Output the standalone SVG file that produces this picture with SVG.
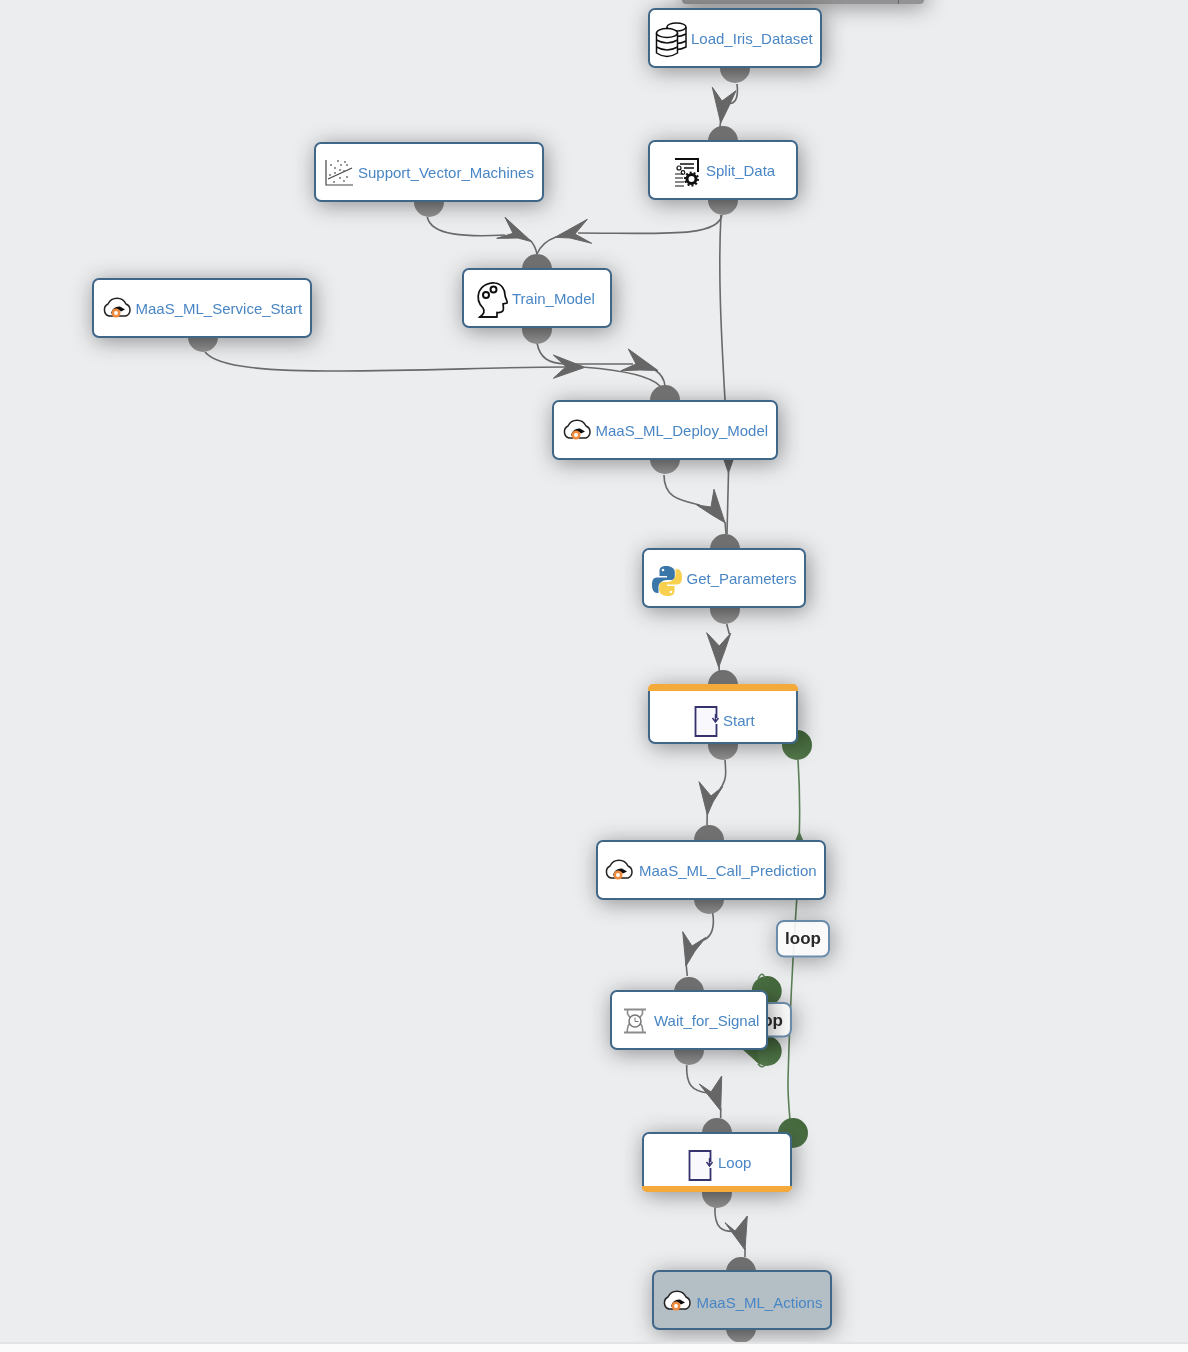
<svg xmlns="http://www.w3.org/2000/svg" xmlns:xlink="http://www.w3.org/1999/xlink" width="1188" height="1352" viewBox="0 0 1188 1352">
<style>
.box{fill:#fff;stroke:#3f6688;stroke-width:2}
.lab{font-family:"Liberation Sans",Arial,sans-serif;font-size:15px;fill:#4a86c4}
.lp{font-family:"Liberation Sans",Arial,sans-serif;font-size:17px;font-weight:bold;fill:#2a2a2a}
.lpb{fill:#fff;fill-opacity:.87;stroke:#6c8cab;stroke-width:2}
.c{fill:none;stroke:#6a6a6a;stroke-width:1.6}
.h{fill:#666;stroke:#666;stroke-width:1;stroke-linejoin:round}
.g{fill:none;stroke:#5b7f57;stroke-width:1.6}
.gh{fill:#5b7f57}
.p{fill:url(#pg)}
.gp{fill:url(#gg)}
.ic{stroke:#111;stroke-width:1.5}
.lic{fill:#f8f8fd;stroke:#35306e;stroke-width:1.8}
</style>
<defs>
<linearGradient id="pg" x1="0" y1="0" x2="0" y2="1"><stop offset="0" stop-color="#707070"/><stop offset="1" stop-color="#939393"/></linearGradient>
<linearGradient id="gg" x1="1" y1="0" x2="0" y2="1"><stop offset="0" stop-color="#3f6437"/><stop offset="1" stop-color="#5a7f52"/></linearGradient>
<filter id="sh" filterUnits="userSpaceOnUse" x="0" y="0" width="1188" height="1352"><feDropShadow dx="2" dy="3" stdDeviation="11" flood-color="#000" flood-opacity=".4"/></filter>
<g id="cloud">
<path d="M7 18A6.500 6.500 0 0 1 6 6A10 10 0 0 1 24 6A6.500 6.500 0 0 1 24 18Z" fill="#fff" stroke="#222" stroke-width="1.500"/>
<path d="M9 15Q11 8 18 8.500L23 11.500L19 13.500Q16 11 14 14L10 16Z" fill="#111"/>
<circle cx="14" cy="15" r="4.500" fill="#f08a3c"/><circle cx="14" cy="15" r="2" fill="#fff"/>
</g>
<g id="lic">
<path class="lic" d="M21 12V1H0V30H21V18"/><path d="M20 8V15M17 12L20 16L23 12" fill="none" stroke="#35306e" stroke-width="1.400"/>
</g>
</defs>
<rect width="1188" height="1352" fill="#ecedef"/>
<g id="partial-node"><rect x="682" y="-20" width="242" height="24" rx="4" fill="#929292" filter="url(#sh)"/><line x1="898.500" y1="0" x2="898.500" y2="4" stroke="#666"/></g>

<g id="connectors">
<path class="c" d="M737 84C739 100 734 105 727 103"/><path class="c" d="M720.700 120L720 127"/><path class="h" d="M720.700 123L712.300 87.300L722 101L736 90.700L729 106Z"/>
<path class="c" d="M427.300 217C431 236 467 237 505 235"/><path class="c" d="M530 240Q535 245 537 254"/><path class="h" d="M531.700 241.700L505 217.300L513 233.300L496.700 238.300L518 238Z"/>
<path class="c" d="M722 215C718 238 660 233 578 233"/><path class="c" d="M537 254Q542 242 556 237"/><path class="h" d="M555 237.300L587.300 219.300L575 234L591.700 243.300L570 238Z"/>
<path class="c" d="M721 215C718 270 721 330 725 400"/>
<path class="c" d="M537 343C540 358 548 363 565 364L633 364"/><path class="c" d="M655 370Q664 376 665 386"/><path class="h" d="M658 370.500L628.300 349L636 364L621 370.700L640 370Z"/>
<path class="c" d="M205 352C218 368 270 371 340 371C420 371 500 367 565 367"/><path class="c" d="M585 367.300C620 370 650 376 660 386"/><path class="h" d="M585 367.300L553.300 355L566 366.700L553.300 378.300Z"/>
<path class="c" d="M728.500 472L727 534"/><path class="h" d="M728.500 473L724 460L733 460Z"/>
<path class="c" d="M664 475C664 498 680 500 700 505"/><path class="c" d="M725 522L726 534"/><path class="h" d="M725 522.700L714 489.300L711 507L696.700 505L712 515Z"/>
<path class="c" d="M726.700 624L729.300 634"/><path class="c" d="M719 665L719.300 672"/><path class="h" d="M718.700 667.300L706.700 632.700L719.300 646L730.700 633.300L725 650Z"/>
<path class="c" d="M725 760C726 772 727 780 720 789"/><path class="c" d="M707.300 812L707 825"/><path class="h" d="M707.300 815L699 781.700L711 796L722.700 786.700L713 802Z"/>
<path class="c" d="M712.700 913C715 928 712 936 704 940"/><path class="c" d="M686 963L687.300 976"/><path class="h" d="M686 966L682.700 931.700L692 946L706 937.300L695 951Z"/>
<path class="c" d="M686.700 1065C686 1085 692 1091 708 1093"/><path class="c" d="M720.700 1108L720.700 1118"/><path class="h" d="M720.700 1110.700L699.300 1084L711 1092L721.700 1076Z"/>
<path class="c" d="M715 1207C714 1228 722 1233 738 1231"/><path class="c" d="M745 1248L745 1257"/><path class="h" d="M745 1250L725 1222.700L735 1231L747.300 1216Z"/>
<path class="g" d="M798 760C800 790 800 810 799.300 834"/><path class="gh" d="M799.300 831L795 841L803.500 841Z"/>
<path class="g" d="M796.700 900C794 940 790 1000 788 1080C787.700 1095 789 1108 790 1120"/>
</g>

<g id="port-shapes">
<circle class="p" cx="735" cy="68" r="15"/><circle class="p" cx="723" cy="141" r="15"/><circle class="p" cx="723" cy="200" r="15"/>
<circle class="p" cx="429" cy="202" r="15"/><circle class="p" cx="537" cy="269" r="15"/><circle class="p" cx="537" cy="329" r="15"/>
<circle class="p" cx="203" cy="337" r="15"/><circle class="p" cx="665" cy="400" r="15"/><circle class="p" cx="665" cy="459" r="15"/>
<circle class="p" cx="725" cy="549" r="15"/><circle class="p" cx="725" cy="609" r="15"/><circle class="p" cx="723" cy="685" r="15"/><circle class="p" cx="723" cy="745" r="15"/>
<circle class="p" cx="709" cy="840" r="15"/><circle class="p" cx="709" cy="899" r="15"/><circle class="p" cx="689" cy="992" r="15"/><circle class="p" cx="689" cy="1050" r="15"/>
<circle class="p" cx="717" cy="1133" r="15"/><circle class="p" cx="717" cy="1193" r="15"/><circle class="p" cx="741" cy="1272" r="15"/><circle class="p" cx="741" cy="1328" r="15"/>
<circle class="gp" cx="797" cy="745" r="15"/><circle class="gp" cx="793" cy="1133" r="15"/>
<circle class="gp" cx="766.700" cy="991" r="15"/><circle class="gp" cx="766.700" cy="1051" r="15"/>
<path class="gp" d="M755 1042L742 1049L760 1065Z"/>
<path d="M758 979Q762 970 765 978" fill="none" stroke="#5b7f57" stroke-width="1.500"/><path d="M758 1064Q762 1069 765 1065" fill="none" stroke="#5b7f57" stroke-width="1.500"/>
</g>

<g id="edge-label-loop-1" filter="url(#sh)"><rect class="lpb" x="777" y="921" width="52" height="35.500" rx="7"/><text class="lp" x="803" y="944" text-anchor="middle">loop</text></g>
<g id="edge-label-loop-2" filter="url(#sh)"><rect class="lpb" x="738" y="1003" width="53" height="33.500" rx="7"/><text class="lp" x="765" y="1026" text-anchor="middle">loop</text></g>

<g id="node-load" filter="url(#sh)"><rect class="box" x="649" y="9" width="172" height="58" rx="6"/>
<g class="ic" fill="#fff"><path d="M667 27V47Q676.500 52 686 47V27"/><ellipse cx="676.500" cy="27" rx="9.500" ry="4"/><path d="M667 34Q676.500 39 686 34M667 41Q676.500 46 686 41" fill="none"/>
<path d="M656.500 33V53Q667 60 677.500 53V33"/><ellipse cx="667" cy="33" rx="10.500" ry="4.500"/><path d="M656.500 40Q667 46 677.500 40M656.500 47Q667 53 677.500 47" fill="none"/></g>
<text class="lab" x="691" y="44">Load_Iris_Dataset</text></g>

<g id="node-split" filter="url(#sh)"><rect class="box" x="649" y="141" width="148" height="58" rx="6"/>
<path d="M675 159H698V172" fill="none" stroke="#111" stroke-width="2"/><path d="M680 164H694M684 168H694" fill="none" stroke="#111" stroke-width="1.300"/><path d="M675 174H683M675 178H683M675 182H684M675 186H684" stroke="#888" stroke-width="2"/>
<circle cx="679" cy="168" r="2" fill="none" stroke="#111" stroke-width="1.200"/><circle cx="683" cy="172.500" r="1.800" fill="none" stroke="#111" stroke-width="1.200"/><circle cx="691.500" cy="179" r="4.500" fill="#fff" stroke="#111" stroke-width="3"/><circle cx="691.500" cy="179" r="6.500" fill="none" stroke="#111" stroke-width="2" stroke-dasharray="2 2"/>
<text class="lab" x="706" y="176">Split_Data</text></g>

<g id="node-svm" filter="url(#sh)"><rect class="box" x="315" y="143" width="228" height="58" rx="6"/>
<path d="M326 160V185H353M328 179L352 168" fill="none" stroke="#444" stroke-width="1.200"/>
<g fill="#666"><circle cx="331" cy="165" r=".9"/><circle cx="335" cy="168" r=".9"/><circle cx="338" cy="161" r=".9"/><circle cx="341" cy="165" r=".9"/><circle cx="345" cy="162" r=".9"/><circle cx="347" cy="165" r=".9"/><circle cx="330" cy="175" r=".9"/><circle cx="335" cy="173" r=".9"/><circle cx="340" cy="170" r=".9"/><circle cx="344" cy="171" r=".9"/><circle cx="334" cy="182" r=".9"/><circle cx="340" cy="178" r=".9"/><circle cx="344" cy="181" r=".9"/><circle cx="347" cy="177" r=".9"/></g>
<text class="lab" x="358" y="178">Support_Vector_Machines</text></g>

<g id="node-train" filter="url(#sh)"><rect class="box" x="463" y="269" width="148" height="58" rx="6"/>
<path d="M480 317C484 314 485 311 483 308C479 304 477 298 479 292C482 285 490 282 495 283C502 284 505 290 505 295C505 298 508 301 507 303L503 304C504 310 504 313 497 312.500V317Z" fill="#fff" stroke="#111" stroke-width="1.700"/><path d="M479 317H497" stroke="#111" stroke-width="1.700"/>
<circle cx="486" cy="295" r="3" fill="none" stroke="#111" stroke-width="2"/><circle cx="493.500" cy="289.500" r="3" fill="none" stroke="#111" stroke-width="2"/>
<text class="lab" x="512" y="304">Train_Model</text></g>

<g id="node-service" filter="url(#sh)"><rect class="box" x="93" y="279" width="218" height="58" rx="6"/><use xlink:href="#cloud" href="#cloud" x="102" y="298"/><text class="lab" x="135.500" y="314">MaaS_ML_Service_Start</text></g>

<g id="node-deploy" filter="url(#sh)"><rect class="box" x="553" y="401" width="224" height="58" rx="6"/><use xlink:href="#cloud" href="#cloud" x="562" y="420"/><text class="lab" x="595.500" y="436">MaaS_ML_Deploy_Model</text></g>

<g id="node-get" filter="url(#sh)"><rect class="box" x="643" y="549" width="162" height="58" rx="6"/>
<g id="py"><path d="M666.500 566C660 566 659.500 568.500 659.500 572V576H667V577.500H657C653 577.500 652 581 652 585C652 590 654 593 657.500 593H658.500V587C658.500 583 663 580 666.500 580H671C674 580 674.800 578 674.800 576V572C674.800 568.500 671 566 666.500 566Z" fill="#3a76a8"/><circle cx="663" cy="570" r="1.300" fill="#fff"/></g>
<g transform="rotate(180 667 581)"><path d="M666.500 566C660 566 659.500 568.500 659.500 572V576H667V577.500H657C653 577.500 652 581 652 585C652 590 654 593 657.500 593H658.500V587C658.500 583 663 580 666.500 580H671C674 580 674.800 578 674.800 576V572C674.800 568.500 671 566 666.500 566Z" fill="#f7d04f"/><circle cx="663" cy="570" r="1.300" fill="#fff"/></g>
<text class="lab" x="686.500" y="584">Get_Parameters</text></g>

<g id="node-start" filter="url(#sh)"><rect class="box" x="649" y="685" width="148" height="58" rx="6"/><path d="M648 691V689A5 5 0 0 1 653 684H793A5 5 0 0 1 798 689V691Z" fill="#f4a93b"/><use xlink:href="#lic" href="#lic" x="695.500" y="706"/><text class="lab" x="723" y="726">Start</text></g>

<g id="node-call" filter="url(#sh)"><rect class="box" x="597" y="841" width="228" height="58" rx="6"/><use xlink:href="#cloud" href="#cloud" x="604" y="860"/><text class="lab" x="639" y="876">MaaS_ML_Call_Prediction</text></g>

<g id="node-wait" filter="url(#sh)"><rect class="box" x="611" y="991" width="156" height="58" rx="6"/>
<path d="M624 1009.500H646M624 1032.500H646" fill="none" stroke="#8c8c8c" stroke-width="2.200"/><path d="M627.500 1010V1014L632 1020L628 1026L627 1032M642.500 1010V1014L638 1020L642 1026L643 1032" fill="none" stroke="#8c8c8c" stroke-width="1.600"/><circle cx="635" cy="1021" r="6" fill="#fff" stroke="#777" stroke-width="1.500"/><path d="M635 1017.500V1021.500H638.500" fill="none" stroke="#777"/>
<text class="lab" x="654" y="1026">Wait_for_Signal</text></g>

<g id="node-loop" filter="url(#sh)"><rect class="box" x="643" y="1133" width="148" height="58" rx="6"/><path d="M642 1186V1187A5 5 0 0 0 647 1192H787A5 5 0 0 0 792 1187V1186Z" fill="#f4a93b"/><use xlink:href="#lic" href="#lic" x="689.500" y="1150"/><text class="lab" x="718" y="1168">Loop</text></g>

<g id="node-actions" filter="url(#sh)"><rect class="box" style="fill:#b3bec5" x="653" y="1271" width="178" height="58" rx="6"/><use xlink:href="#cloud" href="#cloud" x="662" y="1291"/><text class="lab" x="696.500" y="1308">MaaS_ML_Actions</text></g>

<rect x="0" y="1342" width="1188" height="10" fill="#fbfbfb"/><rect x="0" y="1342" width="1188" height="2" fill="#e3e3e5"/>
</svg>
